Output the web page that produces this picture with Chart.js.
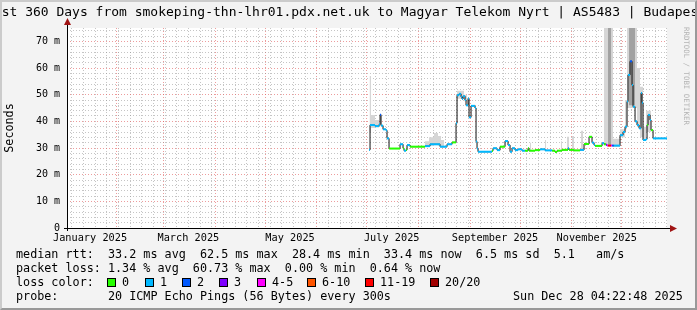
<!DOCTYPE html>
<html>
<head>
<meta charset="utf-8">
<script src="https://cdn.jsdelivr.net/npm/chart.js@4.4.1/dist/chart.umd.min.js"></script>
<style>
body { margin: 0; background: #f3f3f3; }
#wrap { position: relative; width: 697px; height: 310px; overflow: hidden; background: #f3f3f3;
  font-family: 'DejaVu Sans Mono', monospace; color: #000; }
#chart { position: absolute; left: 0; top: 0; }
#frame { position: absolute; left: 0; top: 0; width: 697px; height: 310px; box-sizing: border-box;
  border-top: 2px solid #cbcbcb; border-left: 2px solid #cbcbcb;
  border-right: 2px solid #999; border-bottom: 2px solid #999; }
#title { position: absolute; left: -14px; top: 5px; white-space: pre; font-size: 13px; line-height: 13px; }
.t { position: absolute; left: 16px; white-space: pre; font-size: 11.75px; line-height: 14px; }
.box { position: absolute; top: 278px; width: 7px; height: 7px; border: 1px solid #000; }
#rrd { position: absolute; left: 682px; top: 27px; writing-mode: vertical-rl; font-size: 7.4px;
  color: #b4b4b4; white-space: pre; }
</style>
</head>
<body>
<div id="wrap">
  <canvas id="chart" width="697" height="310"></canvas>
  <div id="title">Last 360 Days from smokeping-thn-lhr01.pdx.net.uk to Magyar Telekom Nyrt | AS5483 | Budapest</div>
  <div id="rrd">RRDTOOL / TOBI OETIKER</div>
  <div class="t" style="top:247px">median rtt:  33.2 ms avg  62.5 ms max  28.4 ms min  33.4 ms now  6.5 ms sd  5.1   am/s</div>
  <div class="t" style="top:261px">packet loss: 1.34 % avg  60.73 % max  0.00 % min  0.64 % now</div>
  <div class="t" style="top:275px">loss color:</div>
  <div id="legend"></div>
  <div class="t" style="top:289px">probe:       20 ICMP Echo Pings (56 Bytes) every 300s</div>
  <div class="t" style="top:289px; left:513px">Sun Dec 28 04:22:48 2025</div>
  <div id="frame"></div>
</div>
<script>
// x values are day of year 2025 (Jan 1 00:00 = 0)
const startDoy = 1.18
const endDoy = 361.18
const monthStartDoy = [31, 59, 90, 120, 151, 181, 212, 243, 273, 304, 334]
const labelDoy = [15, 74, 135, 196, 258, 319]
const monthLabels = ['January 2025', 'March 2025', 'May 2025', 'July 2025', 'September 2025', 'November 2025']
const firstSunday = 4

const lossNames = ['0', '1', '2', '3', '4-5', '6-10', '11-19', '20/20']
const lossColors = ['#26ff00', '#00b8ff', '#0059ff', '#7e00ff', '#ff00ff', '#ff5500', '#ff0000', '#a10000']

// median rtt (ms), step points: value holds until next day
const medianDay = [182.4, 183.0, 186.0, 188.4, 189.0, 189.6, 190.8, 192.6, 193.2, 194.4,
  201.0, 202.8, 203.4, 204.6, 205.2, 207.0, 216.0, 219.0, 225.0, 229.2,
  232.2, 234.6, 235.2, 236.4, 237.6, 238.2, 238.8, 240.0, 240.6, 241.8,
  242.4, 243.6, 246.0, 246.6, 247.2, 247.8, 256.2, 256.8, 259.2, 261.0,
  264.0, 265.8, 267.0, 268.2, 270.0, 271.8, 274.2, 276.0, 277.8, 278.4,
  282.0, 285.0, 288.0, 292.2, 294.0, 295.2, 298.2, 301.8, 302.4, 305.4,
  309.0, 311.4, 314.4, 316.2, 317.4, 318.0, 322.2, 323.4, 324.6, 325.2,
  325.8, 327.6, 328.2, 329.4, 333.0, 334.8, 336.0, 337.2, 337.8, 339.0,
  340.2, 340.8, 342.0, 343.2, 344.4, 345.6, 346.2, 346.8, 348.6, 349.2,
  349.8, 351.0, 351.6, 352.8, 361.18]
const medianMs = [29.3, 38.6, 38.2, 38.8, 42.5, 38.4, 37.0, 36.6, 33.6, 29.8,
  31.4, 29.9, 29.0, 29.3, 31.1, 30.5, 30.7, 31.4, 30.5, 31.4,
  32.1, 39.3, 49.8, 50.3, 49.2, 48.4, 49.4, 48.0, 46.0, 48.6,
  41.5, 45.8, 45.0, 32.4, 29.8, 28.6, 29.0, 29.9, 29.2, 30.5,
  32.6, 31.1, 28.6, 29.9, 29.2, 29.5, 29.0, 29.0, 29.9, 29.0,
  29.2, 29.5, 29.1, 29.0, 28.5, 29.0, 29.3, 29.9, 29.3, 29.1,
  29.3, 31.5, 34.2, 32.0, 31.1, 30.8, 31.8, 31.4, 31.2, 30.9,
  30.9, 30.9, 30.9, 30.9, 34.8, 36.0, 38.0, 47.4, 57.4, 62.5,
  53.6, 45.5, 40.0, 38.6, 37.4, 50.6, 47.0, 33.0, 33.3, 38.6,
  42.4, 40.5, 36.7, 33.6, 33.6]
// index into lossColors
const medianLoss = [1, 1, 1, 1, 2, 1, 1, 1, 1, 0,
  1, 0, 1, 0, 1, 0, 1, 1, 1, 1,
  0, 1, 1, 1, 1, 1, 1, 1, 1, 1,
  1, 1, 1, 1, 1, 1, 0, 1, 1, 0,
  1, 1, 1, 1, 1, 1, 1, 0, 0, 0,
  0, 1, 1, 0, 0, 0, 0, 1, 0, 0,
  1, 0, 0, 1, 1, 0, 1, 0, 3, 4,
  6, 4, 2, 1, 1, 1, 1, 1, 1, 2,
  1, 1, 1, 1, 1, 1, 1, 1, 1, 0,
  1, 1, 0, 1, 1]

// smoke (spread of the pings), step points; hi == lo means no smoke
const smokeDay = [182.7, 183.6, 186.0, 188.4, 216.0, 218.4, 221.4, 223.8, 225.6, 227.4,
  235.2, 239.4, 241.2, 279.0, 279.6, 288.0, 288.6, 297.6, 298.2, 301.2,
  302.4, 304.2, 305.4, 309.6, 310.8, 323.4, 328.8, 333.0, 336.0, 337.2,
  343.2, 345.0, 346.8, 348.6, 351.6]
const smokeHi = [57, 42.4, 40.5, 0, 32.5, 34.0, 35.6, 34.5, 33.0, 0,
  51.5, 50.0, 0, 32.0, 0, 33.0, 0, 32.5, 0, 34.2,
  0, 34.5, 0, 36.5, 0, 80, 33.5, 37.0, 48.0, 80,
  60, 53, 38, 44, 0]
const smokeLo = [36, 37.5, 37.8, 0, 30.4, 30.8, 31.0, 30.8, 30.3, 0,
  48.5, 47.5, 0, 29.0, 0, 29.0, 0, 29.0, 0, 29.5,
  0, 29.0, 0, 29.5, 0, 31.0, 30.5, 34.0, 37.0, 45.0,
  38, 34, 33, 36, 0]
const darkDay = [325.8, 327.6, 338.4, 342.0]
const darkHi = [80, 0, 80, 0]
const darkLo = [31, 0, 46, 0]

const yTicks = []
for (let v = 0; v < 75; v += 2) yTicks.push(v)

const minorColor = 'rgba(140,140,140,0.5)'
const majorColor = 'rgba(225,90,90,0.6)'
const tickInfo = new Map()
for (let d = firstSunday; d < endDoy; d += 7) if (d > startDoy) tickInfo.set(d, { grid: minorColor, label: '' })
monthStartDoy.forEach(d => tickInfo.set(d, { grid: majorColor, label: '' }))
labelDoy.forEach((d, i) => {
  const t = tickInfo.get(d) || { grid: 'rgba(0,0,0,0)', label: '' }
  t.label = monthLabels[i]
  tickInfo.set(d, t)
})
const xTickValues = [...tickInfo.keys()].sort((a, b) => a - b)

const pts = (days, vals) => days.map((d, i) => ({ x: d, y: vals[i] }))

// horizontal pieces of the median, coloured by loss
const colorPts = []
medianDay.forEach((d, i) => {
  if (i === medianDay.length - 1) return
  colorPts.push({ x: d, y: medianMs[i] }, { x: medianDay[i + 1], y: medianMs[i] }, { x: medianDay[i + 1], y: null })
})

const lossLegend = document.getElementById('legend')
const boxX = [107, 145, 182, 219, 257, 307, 365, 430]
lossNames.forEach((n, i) => {
  const b = document.createElement('div')
  b.className = 'box'
  b.style.left = boxX[i] + 'px'
  b.style.background = lossColors[i]
  lossLegend.appendChild(b)
  const t = document.createElement('div')
  t.className = 't'
  t.style.top = '275px'
  t.style.left = (boxX[i] + 15) + 'px'
  t.textContent = n
  lossLegend.appendChild(t)
})

const axesPlugin = {
  id: 'axes',
  beforeDraw(chart) {
    const { ctx, chartArea: a } = chart
    ctx.save()
    ctx.fillStyle = '#fff'
    ctx.fillRect(a.left, a.top, a.right - a.left, a.bottom - a.top)
    ctx.restore()
  },
  afterDatasetsDraw(chart) {
    const { ctx, chartArea: a } = chart
    const l = Math.round(a.left), b = Math.round(a.bottom), r = Math.round(a.right), t = Math.round(a.top)
    ctx.save()
    ctx.strokeStyle = '#000'
    ctx.lineWidth = 1
    ctx.beginPath()
    ctx.moveTo(l - 3, b + 0.5); ctx.lineTo(r + 4, b + 0.5)
    ctx.moveTo(l + 0.5, b + 3); ctx.lineTo(l + 0.5, t - 4)
    ctx.stroke()
    ctx.fillStyle = '#a01414'
    ctx.beginPath(); ctx.moveTo(r + 10, b + 0.5); ctx.lineTo(r + 3, b - 3); ctx.lineTo(r + 3, b + 4); ctx.closePath(); ctx.fill()
    ctx.beginPath(); ctx.moveTo(l + 0.5, t - 10); ctx.lineTo(l - 3, t - 3); ctx.lineTo(l + 4, t - 3); ctx.closePath(); ctx.fill()
    ctx.restore()
  }
}

const mono = 'DejaVu Sans Mono'
new Chart(document.getElementById('chart'), {
  type: 'line',
  data: {
    datasets: [
      { data: colorPts, borderWidth: 2, pointRadius: 0, spanGaps: false,
        segment: { borderColor: c => lossColors[medianLoss[Math.floor(c.p0DataIndex / 3)]] } },
      { data: pts(medianDay, medianMs), stepped: true, borderColor: '#111', borderWidth: 1, pointRadius: 0 },
      { data: pts(darkDay, darkHi), stepped: true, borderWidth: 0, pointRadius: 0, fill: '+1', backgroundColor: '#a2a2a2' },
      { data: pts(darkDay, darkLo), stepped: true, borderWidth: 0, pointRadius: 0 },
      { data: pts(smokeDay, smokeHi), stepped: true, borderWidth: 0, pointRadius: 0, fill: '+1', backgroundColor: '#d6d6d6' },
      { data: pts(smokeDay, smokeLo), stepped: true, borderWidth: 0, pointRadius: 0 }
    ]
  },
  options: {
    responsive: false,
    animation: false,
    devicePixelRatio: 1,
    layout: { padding: { left: 0, right: 30, top: 28, bottom: 62 } },
    plugins: { legend: { display: false }, tooltip: { enabled: false } },
    scales: {
      x: {
        type: 'linear', min: startDoy, max: endDoy,
        afterBuildTicks: s => { s.ticks = xTickValues.map(v => ({ value: v })) },
        afterFit: s => { s.height = 20 },
        ticks: { autoSkip: false, maxRotation: 0, minRotation: 0, padding: 4, color: '#000',
          font: { family: mono, size: 10.25 }, callback: v => (tickInfo.get(v) || {}).label || '' },
        grid: { color: c => c.tick ? (tickInfo.get(c.tick.value) || {}).grid || 'rgba(0,0,0,0)' : 'rgba(0,0,0,0)', drawTicks: false },
        border: { display: false, dash: [1, 2] }
      },
      y: {
        min: 0, max: 75,
        afterBuildTicks: s => { s.ticks = yTicks.map(v => ({ value: v })) },
        afterFit: s => { s.width = 67 },
        ticks: { autoSkip: false, padding: 7, color: '#000', font: { family: mono, size: 10 },
          callback: v => v % 10 === 0 ? (v === 0 ? '0' : v + ' m') : '' },
        grid: { color: c => !c.tick || c.tick.value === 0 ? 'rgba(0,0,0,0)' : (c.tick.value % 10 === 0 ? majorColor : minorColor), drawTicks: false },
        border: { display: false, dash: [1, 2] },
        title: { display: true, text: 'Seconds', color: '#000', font: { family: mono, size: 11.75 }, padding: { top: 3, bottom: 0 } }
      }
    }
  },
  plugins: [axesPlugin]
})
</script>
</body>
</html>
